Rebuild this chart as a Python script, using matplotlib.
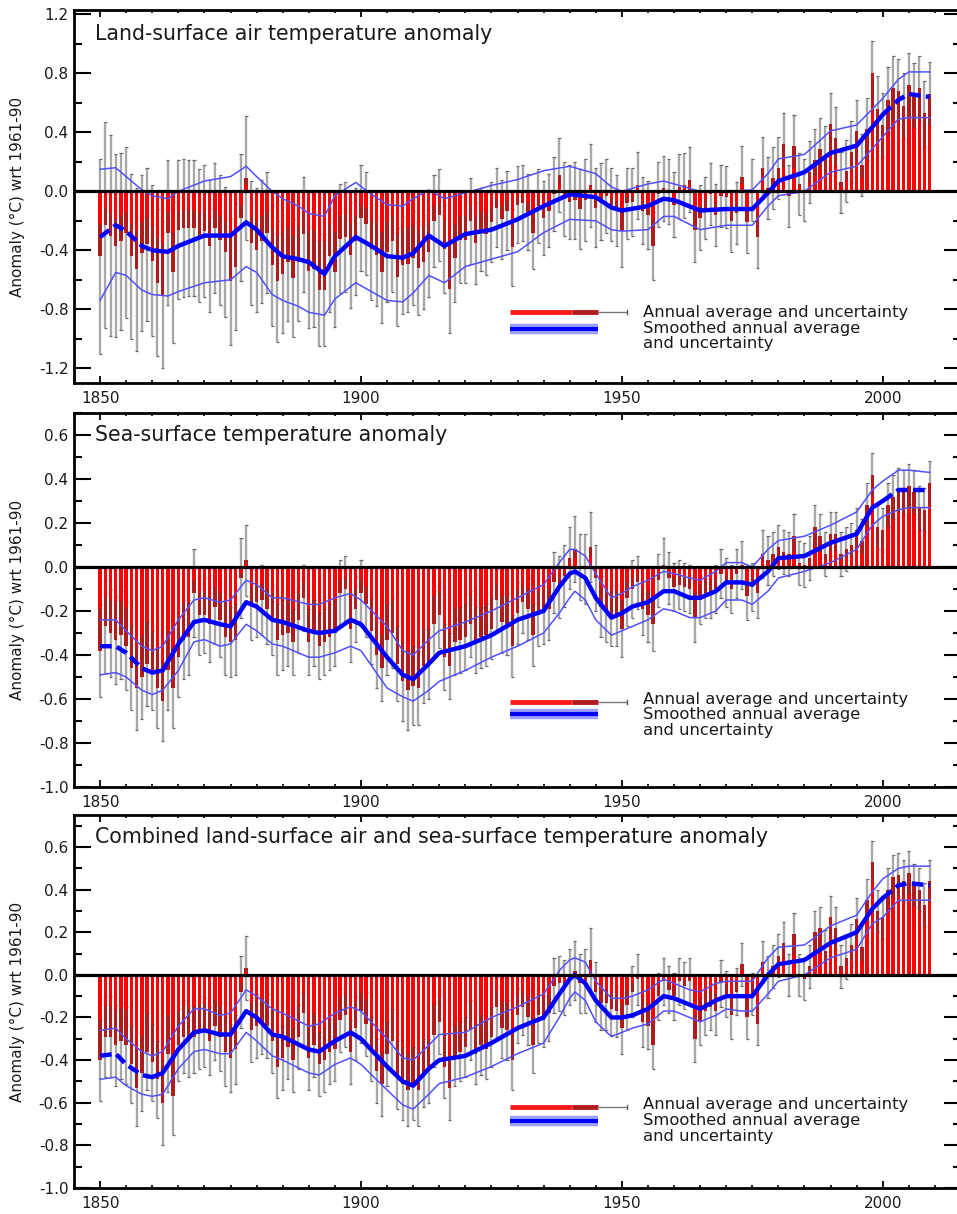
import numpy as np
import matplotlib
matplotlib.use('Agg')
import matplotlib.pyplot as plt
from matplotlib.ticker import MultipleLocator, FuncFormatter, FixedLocator

plt.rcParams['font.family'] = ['DejaVu Sans']
plt.rcParams['axes.unicode_minus'] = False

# ---------------- data ----------------
years = list(range(1850, 2010))

land = [
    -0.44, -0.23, -0.30, -0.37, -0.34, -0.28, -0.44, -0.53, -0.42, -0.36,
    -0.47, -0.62, -0.70, -0.28, -0.55, -0.26, -0.25, -0.25, -0.25, -0.30,
    -0.27, -0.37, -0.25, -0.33, -0.41, -0.61, -0.51, -0.18, 0.09, -0.35,
    -0.40, -0.34, -0.28, -0.50, -0.61, -0.56, -0.48, -0.59, -0.48, -0.29,
    -0.54, -0.53, -0.67, -0.67, -0.44, -0.55, -0.32, -0.31, -0.43, -0.34,
    -0.18, -0.22, -0.39, -0.43, -0.55, -0.41, -0.34, -0.58, -0.50, -0.49,
    -0.45, -0.52, -0.48, -0.41, -0.20, -0.16, -0.39, -0.66, -0.45, -0.33,
    -0.33, -0.20, -0.35, -0.26, -0.29, -0.21, -0.11, -0.19, -0.13, -0.38,
    -0.09, -0.08, -0.14, -0.28, -0.10, -0.18, -0.13, -0.02, 0.11, -0.05,
    -0.07, -0.06, -0.12, -0.06, 0.04, -0.11, -0.07, -0.03, -0.09, -0.13,
    -0.27, -0.08, -0.07, 0.04, -0.13, -0.16, -0.37, -0.02, 0.02, 0.00,
    -0.09, 0.03, 0.04, 0.08, -0.26, -0.18, -0.11, -0.02, -0.16, -0.03,
    -0.04, -0.20, -0.15, 0.10, -0.21, 0.01, -0.31, 0.16, 0.02, 0.09,
    0.16, 0.32, -0.03, 0.31, 0.05, 0.01, 0.13, 0.21, 0.29, 0.23,
    0.46, 0.36, 0.06, 0.14, 0.27, 0.41, 0.18, 0.42, 0.80, 0.56,
    0.45, 0.62, 0.70, 0.68, 0.58, 0.72, 0.65, 0.70, 0.53, 0.66,
]
land_err = [
    0.66, 0.70, 0.68, 0.62, 0.60, 0.58, 0.56, 0.55, 0.53, 0.52,
    0.51, 0.50, 0.50, 0.49, 0.48, 0.47, 0.47, 0.46, 0.46, 0.45,
    0.45, 0.45, 0.44, 0.44, 0.44, 0.43, 0.43, 0.43, 0.42, 0.42,
    0.42, 0.42, 0.41, 0.41, 0.41, 0.40, 0.40, 0.40, 0.40, 0.39,
    0.39, 0.39, 0.38, 0.38, 0.38, 0.37, 0.37, 0.37, 0.36, 0.36,
    0.36, 0.35, 0.35, 0.35, 0.34, 0.34, 0.34, 0.33, 0.33, 0.33,
    0.32, 0.32, 0.32, 0.31, 0.31, 0.31, 0.30, 0.30, 0.30, 0.29,
    0.29, 0.29, 0.28, 0.28, 0.28, 0.27, 0.27, 0.27, 0.27, 0.26,
    0.26, 0.26, 0.26, 0.25, 0.25, 0.25, 0.25, 0.25, 0.25, 0.25,
    0.25, 0.26, 0.27, 0.28, 0.28, 0.27, 0.26, 0.25, 0.25, 0.24,
    0.24, 0.24, 0.23, 0.23, 0.23, 0.23, 0.23, 0.22, 0.22, 0.22,
    0.22, 0.22, 0.22, 0.22, 0.22, 0.22, 0.21, 0.21, 0.21, 0.21,
    0.21, 0.21, 0.21, 0.21, 0.21, 0.21, 0.21, 0.21, 0.21, 0.21,
    0.21, 0.21, 0.21, 0.21, 0.21, 0.21, 0.21, 0.21, 0.21, 0.21,
    0.21, 0.21, 0.21, 0.21, 0.21, 0.21, 0.21, 0.21, 0.22, 0.22,
    0.22, 0.22, 0.22, 0.22, 0.22, 0.22, 0.22, 0.22, 0.22, 0.22,
]

sea = [
    -0.38, -0.27, -0.30, -0.33, -0.31, -0.36, -0.46, -0.55, -0.50, -0.44,
    -0.47, -0.55, -0.61, -0.47, -0.55, -0.41, -0.33, -0.32, -0.12, -0.22,
    -0.22, -0.26, -0.18, -0.24, -0.32, -0.34, -0.33, -0.05, 0.03, -0.17,
    -0.16, -0.15, -0.19, -0.24, -0.33, -0.31, -0.30, -0.34, -0.24, -0.14,
    -0.34, -0.30, -0.36, -0.34, -0.32, -0.30, -0.12, -0.10, -0.28, -0.19,
    -0.12, -0.17, -0.29, -0.40, -0.46, -0.33, -0.30, -0.44, -0.52, -0.56,
    -0.54, -0.55, -0.45, -0.44, -0.26, -0.22, -0.41, -0.45, -0.34, -0.33,
    -0.32, -0.26, -0.33, -0.32, -0.31, -0.28, -0.15, -0.25, -0.26, -0.36,
    -0.21, -0.16, -0.19, -0.31, -0.22, -0.21, -0.19, -0.07, -0.09, -0.04,
    0.04, 0.08, 0.00, -0.01, 0.09, -0.05, -0.18, -0.20, -0.22, -0.22,
    -0.28, -0.14, -0.10, -0.07, -0.19, -0.22, -0.26, -0.06, 0.01, -0.05,
    -0.09, -0.08, -0.09, -0.10, -0.23, -0.15, -0.12, -0.12, -0.10, -0.03,
    -0.07, -0.10, -0.03, 0.01, -0.13, -0.09, -0.12, 0.06, 0.03, 0.06,
    0.09, 0.07, 0.06, 0.14, 0.02, 0.01, 0.04, 0.18, 0.14, 0.06,
    0.15, 0.15, 0.06, 0.08, 0.10, 0.17, 0.12, 0.28, 0.42, 0.18,
    0.17, 0.28, 0.32, 0.35, 0.34, 0.37, 0.34, 0.27, 0.26, 0.38,
]
sea_err = [
    0.21, 0.21, 0.20, 0.20, 0.20, 0.20, 0.19, 0.19, 0.19, 0.19,
    0.18, 0.18, 0.18, 0.18, 0.18, 0.18, 0.18, 0.17, 0.20, 0.18,
    0.17, 0.17, 0.17, 0.17, 0.17, 0.16, 0.16, 0.18, 0.16, 0.16,
    0.16, 0.16, 0.16, 0.16, 0.16, 0.16, 0.15, 0.15, 0.15, 0.15,
    0.15, 0.15, 0.15, 0.15, 0.15, 0.15, 0.15, 0.15, 0.15, 0.15,
    0.15, 0.15, 0.15, 0.15, 0.15, 0.16, 0.16, 0.17, 0.18, 0.18,
    0.18, 0.17, 0.17, 0.16, 0.15, 0.15, 0.15, 0.15, 0.15, 0.15,
    0.15, 0.15, 0.15, 0.14, 0.14, 0.14, 0.14, 0.14, 0.14, 0.14,
    0.14, 0.14, 0.14, 0.14, 0.14, 0.14, 0.14, 0.14, 0.14, 0.14,
    0.14, 0.15, 0.15, 0.16, 0.16, 0.15, 0.14, 0.14, 0.14, 0.14,
    0.13, 0.13, 0.13, 0.12, 0.12, 0.12, 0.12, 0.12, 0.12, 0.12,
    0.11, 0.11, 0.11, 0.11, 0.11, 0.11, 0.11, 0.11, 0.11, 0.11,
    0.11, 0.11, 0.11, 0.11, 0.11, 0.11, 0.11, 0.11, 0.11, 0.10,
    0.10, 0.10, 0.10, 0.10, 0.10, 0.10, 0.10, 0.10, 0.10, 0.10,
    0.10, 0.10, 0.10, 0.10, 0.10, 0.10, 0.10, 0.10, 0.10, 0.10,
    0.10, 0.10, 0.10, 0.10, 0.10, 0.10, 0.10, 0.10, 0.10, 0.10,
]

comb = [
    -0.40, -0.29, -0.29, -0.33, -0.31, -0.33, -0.42, -0.53, -0.46, -0.36,
    -0.41, -0.49, -0.60, -0.37, -0.57, -0.33, -0.29, -0.31, -0.29, -0.27,
    -0.27, -0.31, -0.24, -0.29, -0.36, -0.39, -0.35, -0.08, 0.03, -0.26,
    -0.24, -0.22, -0.24, -0.31, -0.43, -0.39, -0.34, -0.40, -0.29, -0.18,
    -0.39, -0.33, -0.42, -0.40, -0.36, -0.35, -0.21, -0.19, -0.36, -0.25,
    -0.17, -0.23, -0.35, -0.45, -0.51, -0.37, -0.31, -0.47, -0.51, -0.54,
    -0.51, -0.54, -0.46, -0.45, -0.28, -0.22, -0.43, -0.53, -0.38, -0.36,
    -0.34, -0.26, -0.37, -0.33, -0.35, -0.29, -0.15, -0.25, -0.26, -0.40,
    -0.19, -0.15, -0.20, -0.33, -0.19, -0.21, -0.18, -0.05, -0.04, -0.06,
    -0.01, 0.02, -0.04, -0.03, 0.07, -0.08, -0.13, -0.13, -0.16, -0.17,
    -0.25, -0.14, -0.08, -0.02, -0.22, -0.24, -0.33, -0.10, -0.03, -0.07,
    -0.10, -0.03, -0.05, -0.03, -0.30, -0.22, -0.17, -0.15, -0.17, -0.04,
    -0.09, -0.19, -0.08, 0.05, -0.20, -0.09, -0.23, 0.06, -0.01, 0.04,
    0.09, 0.15, 0.00, 0.19, 0.00, -0.02, 0.04, 0.20, 0.22, 0.11,
    0.27, 0.22, 0.04, 0.08, 0.14, 0.26, 0.13, 0.35, 0.53, 0.30,
    0.27, 0.40, 0.46, 0.47, 0.44, 0.48, 0.42, 0.40, 0.33, 0.44,
]
comb_err = [
    0.19, 0.19, 0.19, 0.19, 0.18, 0.18, 0.18, 0.18, 0.18, 0.18,
    0.18, 0.18, 0.20, 0.18, 0.18, 0.17, 0.17, 0.17, 0.17, 0.17,
    0.16, 0.16, 0.16, 0.16, 0.16, 0.16, 0.16, 0.17, 0.15, 0.15,
    0.15, 0.15, 0.15, 0.15, 0.15, 0.15, 0.15, 0.15, 0.15, 0.15,
    0.15, 0.15, 0.15, 0.15, 0.15, 0.15, 0.15, 0.15, 0.15, 0.15,
    0.15, 0.15, 0.15, 0.15, 0.15, 0.15, 0.15, 0.16, 0.17, 0.17,
    0.17, 0.17, 0.16, 0.15, 0.15, 0.15, 0.15, 0.15, 0.14, 0.14,
    0.14, 0.14, 0.14, 0.14, 0.14, 0.14, 0.14, 0.14, 0.14, 0.14,
    0.13, 0.13, 0.13, 0.13, 0.13, 0.13, 0.13, 0.13, 0.13, 0.13,
    0.13, 0.14, 0.14, 0.15, 0.15, 0.14, 0.13, 0.13, 0.12, 0.12,
    0.12, 0.12, 0.12, 0.12, 0.12, 0.11, 0.11, 0.11, 0.11, 0.11,
    0.11, 0.11, 0.11, 0.11, 0.11, 0.11, 0.11, 0.11, 0.11, 0.11,
    0.11, 0.11, 0.11, 0.10, 0.10, 0.10, 0.10, 0.10, 0.10, 0.10,
    0.10, 0.10, 0.10, 0.10, 0.10, 0.10, 0.10, 0.10, 0.10, 0.10,
    0.10, 0.10, 0.10, 0.10, 0.10, 0.10, 0.10, 0.10, 0.10, 0.10,
    0.10, 0.10, 0.10, 0.10, 0.10, 0.10, 0.10, 0.10, 0.10, 0.10,
]

# smoothed curves (read at selected years)
land_s_years = [1850, 1853, 1855, 1858, 1860, 1863, 1865, 1870, 1875, 1878,
                1880, 1883, 1885, 1888, 1890, 1893, 1895, 1899, 1902, 1905,
                1908, 1910, 1913, 1916, 1920, 1925, 1930, 1935, 1940, 1945,
                1948, 1950, 1955, 1958, 1960, 1965, 1970, 1975, 1978, 1980,
                1985, 1990, 1995, 2000, 2003, 2005, 2009]
land_s_mid = [-0.31, -0.23, -0.27, -0.37, -0.40, -0.41, -0.37, -0.30, -0.30, -0.21,
              -0.26, -0.38, -0.44, -0.46, -0.48, -0.56, -0.44, -0.31, -0.37, -0.44,
              -0.45, -0.42, -0.30, -0.37, -0.29, -0.26, -0.19, -0.10, -0.02, -0.04,
              -0.11, -0.13, -0.10, -0.05, -0.06, -0.13, -0.12, -0.12, -0.01, 0.07,
              0.13, 0.26, 0.31, 0.52, 0.62, 0.66, 0.64]
land_s_hi = [0.15, 0.16, 0.10, 0.01, -0.03, -0.05, 0.00, 0.07, 0.10, 0.17,
             0.10, 0.00, -0.05, -0.10, -0.15, -0.17, -0.03, 0.06, -0.02, -0.09,
             -0.10, -0.05, 0.01, -0.05, -0.01, 0.04, 0.08, 0.14, 0.17, 0.12,
             0.03, 0.00, 0.05, 0.07, 0.05, 0.00, 0.00, 0.01, 0.12, 0.22,
             0.25, 0.41, 0.45, 0.63, 0.76, 0.81, 0.81]
land_s_lo = [-0.74, -0.55, -0.57, -0.67, -0.70, -0.71, -0.68, -0.62, -0.60, -0.51,
             -0.55, -0.70, -0.74, -0.78, -0.82, -0.84, -0.73, -0.62, -0.68, -0.74,
             -0.75, -0.69, -0.57, -0.62, -0.51, -0.46, -0.41, -0.28, -0.19, -0.20,
             -0.26, -0.27, -0.26, -0.17, -0.17, -0.26, -0.23, -0.23, -0.10, -0.03,
             0.00, 0.13, 0.17, 0.37, 0.49, 0.50, 0.50]

s_years = [1850, 1853, 1855, 1858, 1860, 1862, 1865, 1868, 1870, 1873,
           1875, 1878, 1880, 1883, 1885, 1890, 1892, 1895, 1898, 1900,
           1905, 1908, 1910, 1913, 1915, 1920, 1925, 1930, 1935, 1938,
           1940, 1941, 1943, 1945, 1948, 1950, 1952, 1955, 1958, 1960,
           1963, 1965, 1968, 1970, 1973, 1975, 1978, 1980, 1985, 1990,
           1995, 1998, 2000, 2003, 2005, 2009]
sea_s_mid = [-0.36, -0.36, -0.39, -0.46, -0.48, -0.47, -0.35, -0.25, -0.24, -0.26,
             -0.27, -0.16, -0.18, -0.24, -0.25, -0.29, -0.30, -0.29, -0.24, -0.26,
             -0.41, -0.49, -0.51, -0.44, -0.39, -0.36, -0.31, -0.24, -0.20, -0.09,
             -0.03, -0.02, -0.05, -0.14, -0.23, -0.21, -0.18, -0.16, -0.11, -0.11,
             -0.14, -0.14, -0.11, -0.07, -0.07, -0.08, -0.02, 0.04, 0.05, 0.11,
             0.15, 0.27, 0.30, 0.35, 0.35, 0.35]
sea_s_hi = [-0.24, -0.24, -0.29, -0.36, -0.38, -0.36, -0.24, -0.15, -0.14, -0.16,
            -0.15, -0.06, -0.08, -0.14, -0.14, -0.17, -0.17, -0.14, -0.12, -0.15,
            -0.27, -0.38, -0.40, -0.33, -0.29, -0.25, -0.20, -0.14, -0.08, 0.02,
            0.08, 0.08, 0.05, -0.03, -0.14, -0.12, -0.09, -0.06, -0.02, -0.03,
            -0.05, -0.06, -0.02, 0.02, 0.02, 0.00, 0.08, 0.12, 0.14, 0.19,
            0.25, 0.35, 0.39, 0.44, 0.44, 0.43]
sea_s_lo = [-0.49, -0.48, -0.50, -0.56, -0.58, -0.56, -0.47, -0.34, -0.33, -0.36,
            -0.35, -0.26, -0.29, -0.35, -0.36, -0.41, -0.41, -0.39, -0.36, -0.38,
            -0.55, -0.59, -0.61, -0.56, -0.52, -0.47, -0.41, -0.36, -0.30, -0.21,
            -0.14, -0.11, -0.15, -0.24, -0.31, -0.29, -0.27, -0.24, -0.19, -0.20,
            -0.23, -0.23, -0.20, -0.15, -0.15, -0.17, -0.11, -0.05, -0.02, 0.02,
            0.08, 0.19, 0.23, 0.26, 0.27, 0.27]
comb_s_mid = [-0.38, -0.37, -0.42, -0.47, -0.48, -0.46, -0.35, -0.27, -0.26, -0.28,
              -0.28, -0.17, -0.20, -0.28, -0.29, -0.35, -0.36, -0.31, -0.27, -0.30,
              -0.43, -0.50, -0.52, -0.44, -0.40, -0.38, -0.32, -0.25, -0.20, -0.09,
              -0.02, 0.00, -0.04, -0.12, -0.20, -0.20, -0.19, -0.16, -0.10, -0.11,
              -0.14, -0.16, -0.12, -0.10, -0.10, -0.10, 0.00, 0.05, 0.07, 0.15,
              0.20, 0.31, 0.36, 0.42, 0.43, 0.42]
comb_s_hi = [-0.26, -0.25, -0.30, -0.36, -0.38, -0.36, -0.24, -0.16, -0.16, -0.19,
             -0.18, -0.07, -0.10, -0.16, -0.18, -0.24, -0.23, -0.18, -0.15, -0.17,
             -0.30, -0.39, -0.40, -0.33, -0.28, -0.27, -0.20, -0.15, -0.09, 0.02,
             0.07, 0.08, 0.06, -0.03, -0.11, -0.11, -0.10, -0.07, -0.02, -0.04,
             -0.07, -0.08, -0.04, -0.03, -0.03, -0.03, 0.08, 0.13, 0.14, 0.23,
             0.28, 0.39, 0.45, 0.50, 0.51, 0.51]
comb_s_lo = [-0.49, -0.48, -0.52, -0.56, -0.57, -0.56, -0.44, -0.36, -0.35, -0.37,
             -0.37, -0.27, -0.31, -0.38, -0.40, -0.46, -0.47, -0.42, -0.39, -0.42,
             -0.54, -0.61, -0.63, -0.56, -0.51, -0.48, -0.43, -0.37, -0.32, -0.20,
             -0.11, -0.08, -0.12, -0.22, -0.29, -0.27, -0.25, -0.23, -0.17, -0.17,
             -0.20, -0.22, -0.19, -0.16, -0.17, -0.17, -0.09, -0.03, 0.00, 0.08,
             0.12, 0.24, 0.27, 0.35, 0.35, 0.35]

titles = ["Land-surface air temperature anomaly",
          "Sea-surface temperature anomaly",
          "Combined land-surface air and sea-surface temperature anomaly"]
legend_labels = ["Annual average and uncertainty",
                 "Smoothed annual average",
                 "and uncertainty"]
ylabel = "Anomaly (\u00b0C) wrt 1961-90"
xtick_years = [1850, 1900, 1950, 2000]

# ---------------- styling ----------------
RED = '#ff0000'
DARKRED = '#b01c1c'
GREY = '#a8a8a8'
CAPGREY = '#6a6a6a'
BLUE = '#0000ff'
THINBLUE = '#5050ff'
TXT = '#1a1a1a'

W, H = 957, 1214
fig = plt.figure(figsize=(W / 100, H / 100), dpi=100)
fig.patch.set_facecolor('white')


def px_axes(left, top, right, bottom):
    return fig.add_axes([left / W, 1 - bottom / H, (right - left) / W, (bottom - top) / H])


panels = [
    dict(box=(74, 10, 961, 383), ylim=(-1.3, 1.23), major=0.4, minor=0.2,
         vals=land, errs=land_err, sy=land_s_years, sm=land_s_mid, sh=land_s_hi, sl=land_s_lo,
         title_y=0.920, leg=(0.190, 0.145, [0.190, 0.147, 0.106])),
    dict(box=(74, 413, 961, 787), ylim=(-1.0, 0.70), major=0.2, minor=0.1,
         vals=sea, errs=sea_err, sy=s_years, sm=sea_s_mid, sh=sea_s_hi, sl=sea_s_lo,
         title_y=0.925, leg=(0.227, 0.195, [0.233, 0.193, 0.152])),
    dict(box=(74, 815, 961, 1188), ylim=(-1.0, 0.75), major=0.2, minor=0.1,
         vals=comb, errs=comb_err, sy=s_years, sm=comb_s_mid, sh=comb_s_hi, sl=comb_s_lo,
         title_y=0.926, leg=(0.217, 0.180, [0.223, 0.180, 0.139])),
]

fmt = FuncFormatter(lambda v, p: "%.1f" % (0.0 if abs(v) < 1e-9 else v))
DASH = (0, (2.6, 1.2))

for i, P in enumerate(panels):
    ax = px_axes(*P['box'])
    yrs = np.array(years, dtype=float)
    v = np.array(P['vals'])
    e = np.array(P['errs'])
    lo, hi = v - e, v + e

    # uncertainty whiskers
    ax.vlines(yrs, lo, hi, color=GREY, lw=1.7, zorder=2)
    ax.hlines(np.concatenate([lo, hi]), np.concatenate([yrs, yrs]) - 0.3,
              np.concatenate([yrs, yrs]) + 0.3, color=CAPGREY, lw=0.9, zorder=2)
    # bars
    ax.bar(yrs, v, width=0.65, color=RED, linewidth=0, zorder=3)
    # darker shading on the outer part of each bar (inside the uncertainty range)
    d = np.minimum(e, 0.5 * np.abs(v))
    neg = v < 0
    b0 = np.where(neg, v, v - d)
    b1 = np.where(neg, v + d, v)
    ax.bar(yrs, b1 - b0, bottom=b0, width=0.65, color=DARKRED, linewidth=0, zorder=4)

    ax.axhline(0, color='black', lw=2.3, zorder=7)

    # smoothed curves
    sy = np.array(P['sy'], dtype=float)
    sm = np.array(P['sm'])
    ax.plot(sy, P['sh'], color=THINBLUE, lw=1.1, zorder=5)
    ax.plot(sy, P['sl'], color=THINBLUE, lw=1.1, zorder=5)
    m1 = sy <= 1860
    m2 = (sy >= 1860) & (sy <= 2000)
    m3 = sy >= 2000
    ax.plot(sy[m1], sm[m1], color=BLUE, lw=3.2, ls=DASH, dash_capstyle='butt', zorder=6)
    ax.plot(sy[m2], sm[m2], color=BLUE, lw=3.2, solid_capstyle='round',
            solid_joinstyle='round', zorder=6)
    ax.plot(sy[m3], sm[m3], color=BLUE, lw=3.2, ls=DASH, dash_capstyle='butt', zorder=6)

    # axes styling
    ax.set_xlim(1845, 2015)
    ax.set_ylim(*P['ylim'])
    ax.xaxis.set_major_locator(FixedLocator(xtick_years))
    ax.xaxis.set_minor_locator(MultipleLocator(5))
    ax.yaxis.set_major_locator(MultipleLocator(P['major']))
    ax.yaxis.set_minor_locator(MultipleLocator(P['minor']))
    ax.yaxis.set_major_formatter(fmt)
    ax.tick_params(axis='y', which='major', direction='in', length=12, width=1.5,
                   left=True, right=True, labelsize=11, pad=4, labelcolor=TXT)
    ax.tick_params(axis='y', which='minor', direction='in', length=6, width=1.5,
                   left=True, right=True)
    ax.tick_params(axis='x', which='major', direction='in', length=5, width=1.3,
                   top=True, bottom=True, labelsize=11, pad=6, labelcolor=TXT)
    ax.tick_params(axis='x', which='minor', direction='in', length=2.5, width=1.2,
                   top=True, bottom=True)
    for s in ax.spines.values():
        s.set_linewidth(2.0)
    ax.set_ylabel(ylabel, fontsize=11, color=TXT)
    ax.yaxis.set_label_coords(-0.0552, 0.5)

    ax.text(0.024, P['title_y'], titles[i], transform=ax.transAxes, fontsize=14.8,
            ha='left', va='baseline', color=TXT)

    # legend (manual)
    yr_, yb, ty = P['leg']
    tr = ax.transAxes
    x0, x1, x2, x3 = 0.4915, 0.5614, 0.5908, 0.6235
    ax.plot([x0, x1], [yr_, yr_], color='#ff1a1a', lw=3.5, transform=tr,
            solid_capstyle='butt', zorder=8)
    ax.plot([x1, x2], [yr_, yr_], color=DARKRED, lw=3.5, transform=tr,
            solid_capstyle='butt', zorder=8)
    ax.plot([x2, x3], [yr_, yr_], color='#7a7a7a', lw=1.0, transform=tr,
            solid_capstyle='butt', zorder=8)
    ax.plot([x3, x3], [yr_ - 0.005, yr_ + 0.005], color='#5a5a5a', lw=1.0,
            transform=tr, zorder=8)
    ax.plot([x0, x2], [yb, yb], color='#a0a0ff', lw=7.5, transform=tr,
            solid_capstyle='butt', zorder=8)
    ax.plot([x0, x2], [yb, yb], color=BLUE, lw=3.0, transform=tr,
            solid_capstyle='butt', zorder=9)
    for t, yy in zip(legend_labels, ty):
        ax.text(0.642, yy, t, transform=tr, fontsize=11.8, ha='left', va='center',
                color=TXT)

fig.savefig('out.png', dpi=100, facecolor='white')
